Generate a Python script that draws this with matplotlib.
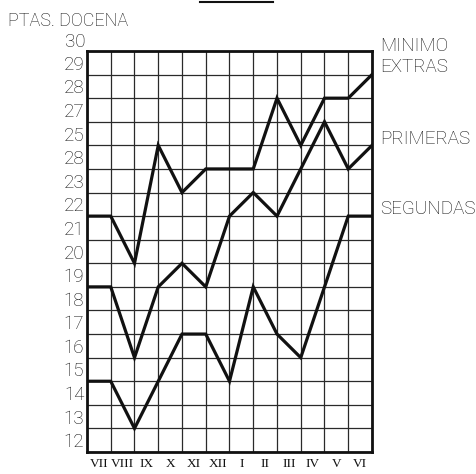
import matplotlib
matplotlib.use('Agg')
import matplotlib.pyplot as plt
from matplotlib.lines import Line2D

# month labels (one per column) and the price series (ptas. per dozen)
months = ["VII", "VIII", "IX", "X", "XI", "XII", "I", "II", "III", "IV", "V", "VI"]
points = list(range(13))
minimo_extras = [21.5, 21.5, 19.5, 24.5, 22.5, 23.5, 23.5, 23.5, 26.5, 24.5, 26.5, 26.5, 27.5]
primeras = [18.5, 18.5, 15.5, 18.5, 19.5, 18.5, 21.5, 22.5, 21.5, 23.5, 25.5, 23.5, 24.5]
segundas = [14.5, 14.5, 12.5, 14.5, 16.5, 16.5, 14.5, 18.5, 16.5, 15.5, 18.5, 21.5, 21.5]

ytick_pos = list(range(12, 29))
ytick_labels = ["12", "13", "14", "15", "16", "17", "18", "19", "20", "21", "22",
                "23", "28", "25", "27", "28", "29"]

W, H = 477, 474
fig = plt.figure(figsize=(W / 100, H / 100), dpi=100)
ax = fig.add_axes([87 / W, 1 - 452 / H, (372 - 87) / W, (452 - 51) / H])

sans = ["Roboto", "DejaVu Sans"]
ink = "#111111"

# grid
ax.set_xlim(0, 12)
ax.set_ylim(11.5, 28.5)
ax.set_xticks([i for i in range(13)], minor=True)
ax.set_yticks([v + 0.5 for v in range(11, 29)], minor=True)
ax.grid(which='minor', color="#2a2a2a", linewidth=0.9)
ax.tick_params(which='minor', length=0)
for s in ax.spines.values():
    s.set_linewidth(2.0)
    s.set_color(ink)

# lines
for series in (minimo_extras, primeras, segundas):
    ax.plot(points, series, color=ink, linewidth=2.3, solid_joinstyle='miter', zorder=3)

# ticks
ax.set_xticks([i + 0.5 for i in range(12)])
ax.set_xticklabels(months, family=["Liberation Serif", "DejaVu Serif"], fontsize=9.5,
                   color=ink)
ax.set_yticks(ytick_pos)
ax.set_yticklabels(ytick_labels, family=sans, fontweight='light', fontsize=13.5, color=ink)
ax.tick_params(which='major', length=0, pad=2)
ax.tick_params(axis='x', pad=4)
ax.text(-0.07, 28.88, "30", ha='right', va='center', family=sans, fontweight='light',
        fontsize=13.5, color=ink, clip_on=False)

# series names on the right
lab = dict(ha='left', family=sans, fontweight='light', fontsize=13.5, color=ink,
           clip_on=False, linespacing=1.2)
ax.text(12.34, minimo_extras[-1] + 0.78, "MINIMO\nEXTRAS", va='center', **lab)
ax.text(12.34, primeras[-1] + 0.27, "PRIMERAS", va='center', **lab)
ax.text(12.34, segundas[-1] + 0.3, "SEGUNDAS", va='center', **lab)

# unit title and the cut-off rule at the top
fig.text(8 / W, 1 - 21 / H, "PTAS. DOCENA", ha='left', va='center', family=sans,
         fontweight='light', fontsize=13, color=ink)
fig.add_artist(Line2D([200 / W, 273 / W], [1 - 2 / H, 1 - 2 / H], color=ink, linewidth=1.5))

fig.savefig("out.png", dpi=100, facecolor='white')
